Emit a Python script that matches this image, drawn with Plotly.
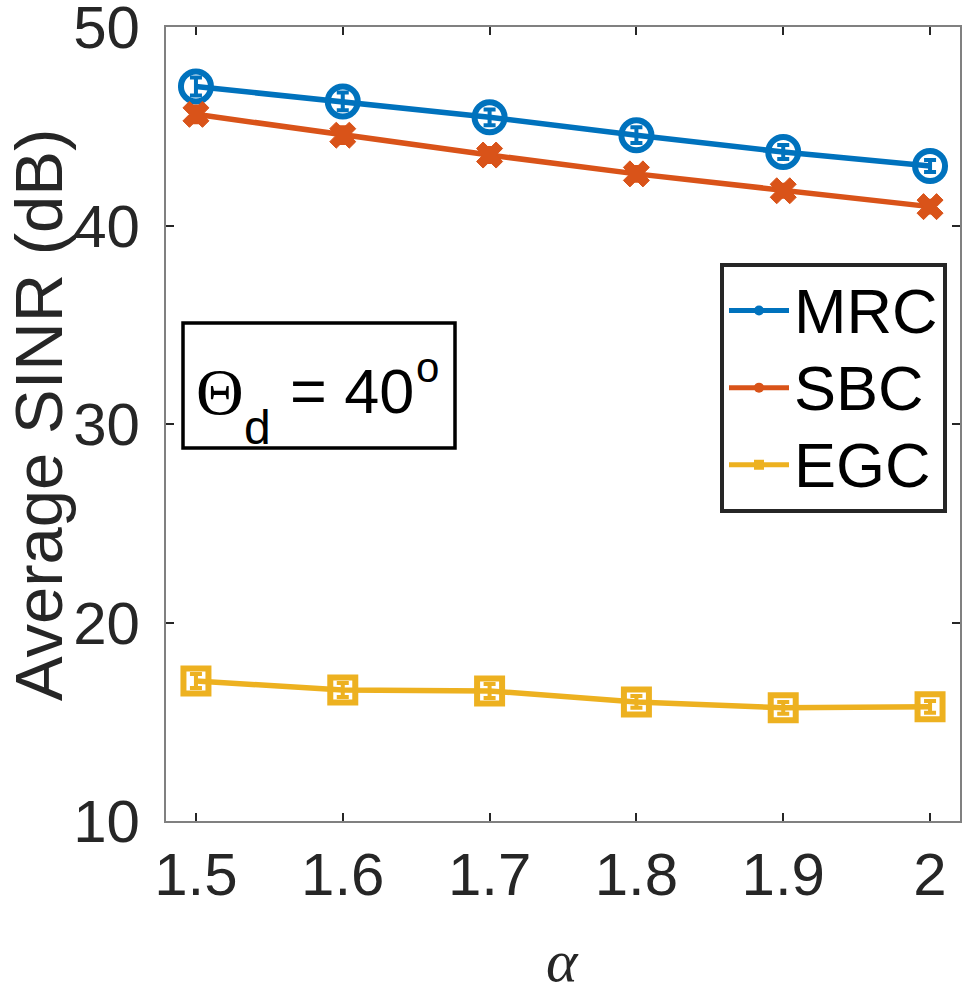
import plotly.graph_objects as go

alpha = [1.5, 1.6, 1.7, 1.8, 1.9, 2.0]
mrc = [47.0, 46.25, 45.45, 44.55, 43.7, 43.0]
sbc = [45.6, 44.55, 43.55, 42.6, 41.75, 40.95]
egc = [17.05, 16.6, 16.55, 16.0, 15.7, 15.75]
mrc_err = [0.45, 0.45, 0.4, 0.4, 0.35, 0.3]
sbc_err = [0.4, 0.4, 0.35, 0.35, 0.3, 0.3]
egc_err = [0.35, 0.35, 0.35, 0.3, 0.3, 0.3]
x_ticks = [1.5, 1.6, 1.7, 1.8, 1.9, 2.0]
x_ticklabels = ["1.5", "1.6", "1.7", "1.8", "1.9", "2"]
y_ticks = [10, 20, 30, 40, 50]
names = ["MRC", "SBC", "EGC"]
colors = ["#0072BD", "#D95319", "#EDB120"]

series = [
    (mrc, mrc_err, "circle-open", 30, 6),
    (sbc, sbc_err, "x", 23, 1),
    (egc, egc_err, "square-open", 25, 6),
]

fig = go.Figure()
for (vals, err, sym, size, lw), name, col in zip(series, names, colors):
    fig.add_trace(go.Scatter(
        x=alpha, y=vals, mode="lines+markers", showlegend=False,
        line=dict(color=col, width=5.5),
        marker=dict(symbol=sym, size=size, color=col, line=dict(color=col, width=lw)),
        error_y=dict(type="data", array=err, visible=True, color=col, thickness=4, width=6),
    ))

leg_syms = ["circle", "circle", "square"]
for name, col, sym in zip(names, colors, leg_syms):
    fig.add_trace(go.Scatter(
        x=[None], y=[None], mode="lines+markers",
        name='<span style="font-size:63px">%s</span>' % name,
        line=dict(color=col, width=5),
        marker=dict(symbol=sym, size=10, color=col),
    ))

W, H = 966, 993
L, R, T, B = 166, 960, 27, 821


def px(xp):
    return (xp - L) / (R - L)


def py(yp):
    return (B - yp) / (B - T)


def ann(text, x, y, size, family=None, xanchor="center", angle=0, color="black"):
    f = dict(size=size, color=color)
    if family:
        f["family"] = family
    return dict(xref="paper", yref="paper", x=px(x), y=py(y), text=text,
                xanchor=xanchor, yanchor="middle", showarrow=False, font=f,
                textangle=angle)


annotations = [
    ann("Θ", 220, 391, 66, family="Liberation Serif, DejaVu Serif, serif"),
    ann("d", 257, 428, 48),
    ann("= 40", 288, 391, 63, xanchor="left"),
    ann("o", 427, 367, 42),
    ann("Average SINR (dB)", 38, 415, 67, angle=-90, color="#262626"),
    ann("<i>α</i>", 562, 961, 60, family="Liberation Serif, DejaVu Serif, serif", color="#262626"),
]

fig.update_layout(
    width=W, height=H,
    margin=dict(l=L, r=W - R, t=T, b=H - B, pad=0),
    paper_bgcolor="white", plot_bgcolor="white",
    font=dict(family="Liberation Sans, Arial, sans-serif", color="#262626", size=59),
    showlegend=True,
    legend=dict(
        x=px(720), y=py(263), xanchor="left", yanchor="top",
        bgcolor="white", bordercolor="#262626", borderwidth=4,
        font=dict(size=57, color="black"), itemwidth=60, tracegroupgap=0,
    ),
    shapes=[dict(type="rect", xref="paper", yref="paper",
                 x0=px(183), x1=px(455), y0=py(448), y1=py(323),
                 line=dict(color="black", width=3.5), fillcolor="white")],
    annotations=annotations,
)
fig.update_xaxes(
    range=[1.4796, 2.0204], tickvals=x_ticks, ticktext=x_ticklabels,
    showline=True, linecolor="#808080", linewidth=2, mirror="ticks",
    ticks="inside", ticklen=8, tickwidth=1.5, tickcolor="#262626",
    showgrid=False, zeroline=False, ticklabeloverflow="allow", automargin=False,
    tickfont=dict(size=60, color="#262626"),
)
fig.update_yaxes(
    range=[10, 50], tickvals=y_ticks,
    showline=True, linecolor="#808080", linewidth=2, mirror="ticks",
    ticks="inside", ticklen=8, tickwidth=1.5, tickcolor="#262626",
    showgrid=False, zeroline=False, ticklabeloverflow="allow", automargin=False,
    tickfont=dict(size=60, color="#262626"),
    ticklabelstandoff=12,
)

fig.write_html("out.html")
